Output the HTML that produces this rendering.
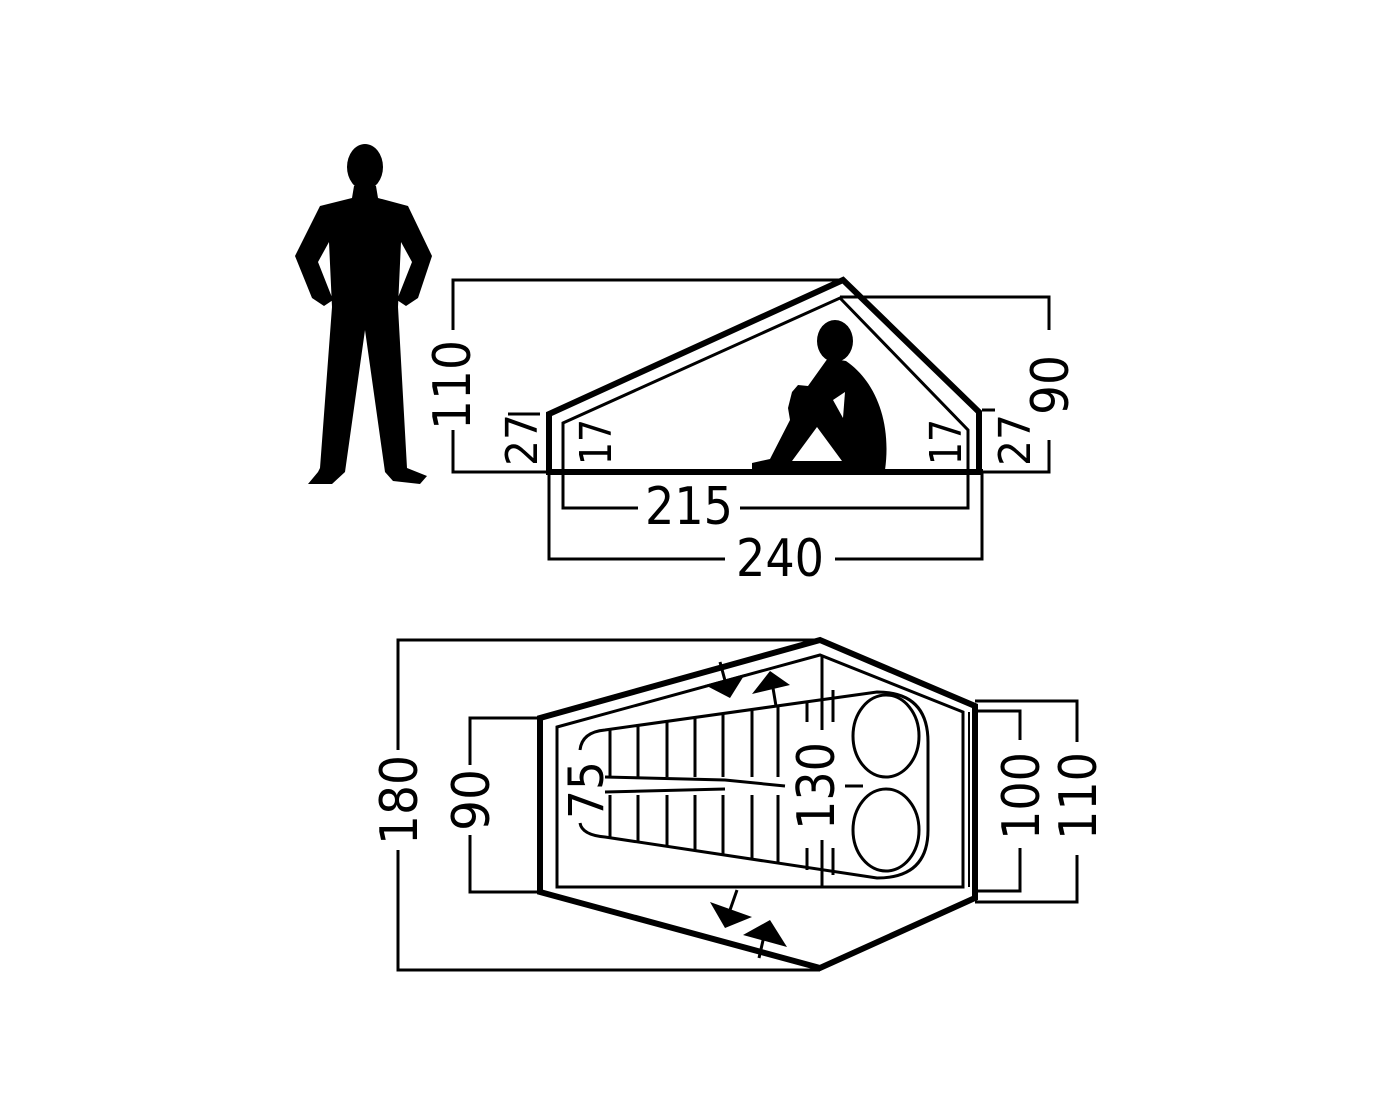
<!DOCTYPE html>
<html><head><meta charset="utf-8"><style>
html,body{margin:0;padding:0;background:#fff;}
svg{display:block;}
text{font-family:"DejaVu Sans","Liberation Sans",sans-serif;fill:#000;}
</style></head><body>
<svg width="1400" height="1120" viewBox="0 0 1400 1120" xmlns="http://www.w3.org/2000/svg">
<rect width="1400" height="1120" fill="#fff"/>
<!-- standing person -->
<ellipse cx="365" cy="167" rx="18" ry="23" fill="#000"/>
<path d="M354,186 L376,186 L378,198 L408,206 L432,256 L418,298 L406,306 L397,300 L412,262 L401,242 L398,307 L407,468 L427,476 L420,484 L393,481 L385,472 L365,330 L345,472 L332,484 L308,484 L318,472 L320,468 L332,307 L329,242 L318,262 L333,300 L324,306 L312,298 L295,256 L320,206 L352,198 Z" fill="#000"/>
<g fill="none" stroke="#000">
<!-- side view tent -->
<path d="M549,472 L549,414 L843,280 L979,412 L979,472" stroke-width="6" stroke-linejoin="miter"/>
<path d="M563,472 L563,423 L840,298 L968,430 L968,472" stroke-width="3"/>
<line x1="546" y1="472" x2="983" y2="472" stroke-width="6"/>
<path d="M453,330 L453,280 L843,280 M453,430 L453,472 L549,472" stroke-width="3"/>
<path d="M840,297 L1049,297 L1049,330 M1049,440 L1049,472 L979,472" stroke-width="3"/>
<line x1="508" y1="414" x2="540" y2="414" stroke-width="3"/>
<line x1="982" y1="410" x2="995" y2="410" stroke-width="3"/>
<path d="M563,472 L563,508 L638,508 M740,508 L968,508 L968,472" stroke-width="3"/>
<path d="M549,472 L549,559 L725,559 M835,559 L982,559 L982,472" stroke-width="3"/>
</g>
<!-- sitting person -->
<ellipse cx="835" cy="341" rx="18" ry="21" fill="#000"/>
<path d="M828,358 L846,361 C874,380 892,420 885,470 L752,470 L752,463 L770,459 L790,420 L788,408 L792,392 L798,385 L808,386 Z" fill="#000"/>
<path d="M833,400 L845,392 L843,418 Z" fill="#fff"/>
<path d="M817,427 L792,461 L842,461 Z" fill="#fff"/>
<text transform="translate(470,385) rotate(-90)" font-size="52" text-anchor="middle" textLength="90" lengthAdjust="spacingAndGlyphs">110</text>
<text transform="translate(1068,385) rotate(-90)" font-size="52" text-anchor="middle" textLength="60" lengthAdjust="spacingAndGlyphs">90</text>
<text transform="translate(537,440) rotate(-90)" font-size="44" text-anchor="middle" textLength="52" lengthAdjust="spacingAndGlyphs">27</text>
<text transform="translate(611,442) rotate(-90)" font-size="44" text-anchor="middle" textLength="46" lengthAdjust="spacingAndGlyphs">17</text>
<text transform="translate(961,442) rotate(-90)" font-size="44" text-anchor="middle" textLength="46" lengthAdjust="spacingAndGlyphs">17</text>
<text transform="translate(1030,440) rotate(-90)" font-size="44" text-anchor="middle" textLength="52" lengthAdjust="spacingAndGlyphs">27</text>
<text x="689" y="524" font-size="52" text-anchor="middle" textLength="88" lengthAdjust="spacingAndGlyphs">215</text>
<text x="780" y="576" font-size="52" text-anchor="middle" textLength="88" lengthAdjust="spacingAndGlyphs">240</text>

<!-- top view -->
<g fill="none" stroke="#000">
<path d="M540,718 L820,640 L975,706 L975,898 L820,968 L540,892 Z" stroke-width="6" stroke-linejoin="miter"/>
<path d="M557,727 L820,655 L963,712 L963,887 L557,887 Z" stroke-width="3"/>
<line x1="969" y1="712" x2="969" y2="887" stroke-width="2"/>
<line x1="822" y1="655" x2="822" y2="730" stroke-width="3"/>
<line x1="822" y1="840" x2="822" y2="887" stroke-width="3"/>
<path d="M398,750 L398,640 L820,640 M398,850 L398,970 L820,970" stroke-width="3"/>
<path d="M470,765 L470,718 L540,718 M470,835 L470,892 L540,892" stroke-width="3"/>
<path d="M975,711 L1020,711 L1020,740 M1020,848 L1020,891 L975,891" stroke-width="3"/>
<path d="M975,701 L1077,701 L1077,742 M1077,855 L1077,902 L975,902" stroke-width="3"/>
<path d="M580,750 Q582,732 605,730 L877,692 Q928,692 928,742 L928,830 Q928,878 877,878 L605,837 Q582,835 580,823" stroke-width="3"/>
<ellipse cx="886" cy="736" rx="33" ry="41" stroke-width="3"/>
<ellipse cx="886" cy="830" rx="33" ry="41" stroke-width="3"/>
<path d="M610,729 L610,777 M638,726 L638,777 M667,722 L667,777 M695,718 L695,777 M723,714 L723,777 M752,710 L752,777 M778,706 L778,777" stroke-width="3"/>
<path d="M610,795 L610,838 M638,795 L638,842 M667,795 L667,846 M695,795 L695,851 M723,795 L723,855 M752,795 L752,859 M778,795 L778,863" stroke-width="3"/>
<path d="M605,777 L725,780 L785,786 M605,792 L725,789" stroke-width="3"/>
<path d="M807,702 L807,722 M833,690 L833,722 M807,848 L807,870 M833,848 L833,875 M845,786 L863,786" stroke-width="3"/>
<path d="M720,662 L727,688 M773,688 L776,706 M737,890 L730,910 M759,958 L764,936" stroke-width="3"/>
</g>
<g fill="#000">
<path d="M705,685 L745,674 L730,698 Z"/>
<path d="M770,671 L752,694 L790,685 Z"/>
<path d="M710,902 L752,917 L725,928 Z"/>
<path d="M787,947 L743,935 L770,920 Z"/>
</g>
<text transform="translate(417,800) rotate(-90)" font-size="52" text-anchor="middle" textLength="90" lengthAdjust="spacingAndGlyphs">180</text>
<text transform="translate(489,800) rotate(-90)" font-size="52" text-anchor="middle" textLength="62" lengthAdjust="spacingAndGlyphs">90</text>
<text transform="translate(603,790) rotate(-90)" font-size="48" text-anchor="middle" textLength="58" lengthAdjust="spacingAndGlyphs">75</text>
<text transform="translate(834,786) rotate(-90)" font-size="52" text-anchor="middle" textLength="88" lengthAdjust="spacingAndGlyphs">130</text>
<text transform="translate(1039,796) rotate(-90)" font-size="52" text-anchor="middle" textLength="88" lengthAdjust="spacingAndGlyphs">100</text>
<text transform="translate(1096,796) rotate(-90)" font-size="52" text-anchor="middle" textLength="88" lengthAdjust="spacingAndGlyphs">110</text>
</svg>
</body></html>
